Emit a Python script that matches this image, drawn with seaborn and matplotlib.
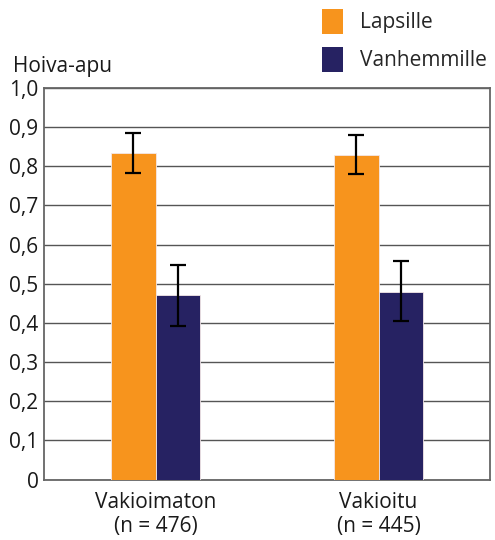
import matplotlib
matplotlib.use("Agg")
import matplotlib.pyplot as plt
from matplotlib.patches import Patch
import pandas as pd
import seaborn as sns

groups = ["Vakioimaton\n(n = 476)", "Vakioitu\n(n = 445)"]
series = ["Lapsille", "Vanhemmille"]
lapsille = [0.835, 0.830]
vanhemmille = [0.471, 0.480]
lapsille_lo = [0.783, 0.780]
lapsille_hi = [0.886, 0.879]
vanhemmille_lo = [0.392, 0.404]
vanhemmille_hi = [0.549, 0.557]
colors = ["#F7941D", "#262262"]
yticks = [0, 0.1, 0.2, 0.3, 0.4, 0.5, 0.6, 0.7, 0.8, 0.9, 1.0]

df = pd.DataFrame({
    "group": groups * 2,
    "series": [series[0]] * 2 + [series[1]] * 2,
    "value": lapsille + vanhemmille,
})
lows = lapsille_lo + vanhemmille_lo
highs = lapsille_hi + vanhemmille_hi

sns.set_style("white")
plt.rcParams["font.family"] = ["Open Sans", "DejaVu Sans"]

fig = plt.figure(figsize=(4.95, 5.4), dpi=100)
ax = fig.add_axes([0.089, 0.112, 0.901, 0.725])

sns.barplot(data=df, x="group", y="value", hue="series", palette=colors,
            width=0.4, saturation=1, legend=False, ax=ax, zorder=3,
            linewidth=0.6, edgecolor="#f4e8e8")

# error bars on the bar centres
bars = [p for p in ax.patches if p.get_height() > 0]
for bar, v, lo, hi in zip(bars, df["value"], lows, highs):
    xc = bar.get_x() + bar.get_width() / 2
    ax.errorbar(xc, v, yerr=[[v - lo], [hi - v]], fmt="none", ecolor="black",
                elinewidth=1.6, capsize=6, capthick=1.6, zorder=4)

ax.set_ylim(0, 1.0)
ax.set_xlim(-0.5, 1.5)
ax.set_yticks(yticks)
ax.set_yticklabels(["0"] + [f"{t:.1f}".replace(".", ",") for t in yticks[1:]])
ax.yaxis.grid(True, color="#555555", linewidth=1.0, zorder=0)
ax.set_axisbelow(True)
for s in ax.spines.values():
    s.set_color("#666666")
    s.set_linewidth(1.3)
ax.tick_params(axis="both", length=0, labelsize=15, colors="#1a1a1a")
ax.tick_params(axis="y", pad=4)
ax.tick_params(axis="x", pad=9)
ax.set_xlabel("")
ax.set_ylabel("")

fig.text(0.026, 0.876, "Hoiva-apu", fontsize=15, color="#1a1a1a", va="center")

handles = [Patch(facecolor=c, edgecolor="none") for c in colors]
fig.legend(handles, series, loc="upper left", bbox_to_anchor=(322 / 495, 1 - 9 / 540),
           frameon=False, fontsize=15, handlelength=1.0, handleheight=1.47,
           handletextpad=0.8, labelspacing=0.62, borderpad=0, borderaxespad=0)

fig.savefig("out.png", dpi=100)
